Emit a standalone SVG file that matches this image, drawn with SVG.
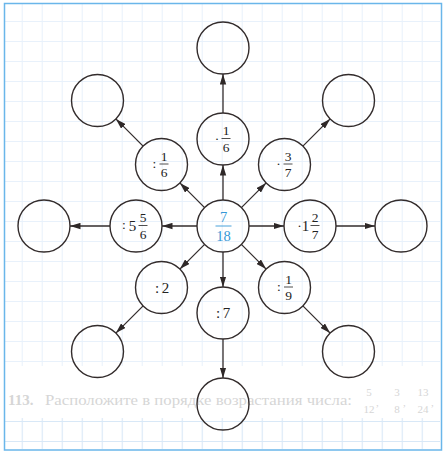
<svg xmlns="http://www.w3.org/2000/svg" width="447" height="456" viewBox="0 0 447 456">
<defs>
<pattern id="grid" patternUnits="userSpaceOnUse" x="1.7" y="1" width="20" height="20">
<path d="M0,0.5 H20 M0.5,0 V20" fill="none" stroke="#e8f1fb" stroke-width="1"/>
</pattern>
<pattern id="grid2" patternUnits="userSpaceOnUse" x="1.7" y="1" width="20" height="20">
<path d="M0,0.5 H20 M0.5,0 V20" fill="none" stroke="#d8e8f7" stroke-width="1.2"/>
</pattern>
<marker id="ah" markerUnits="userSpaceOnUse" markerWidth="11" markerHeight="7" refX="10.5" refY="3.5" orient="auto">
<path d="M0,0.3 L10.5,3.5 L0,6.7 Z" fill="#2e2828"/>
</marker>
<style>
.n{fill:none;stroke:#332c2c;stroke-width:1.4}
.t{font-family:"Liberation Serif","DejaVu Serif",serif;font-size:13.5px;fill:#222;text-anchor:middle}
.b{font-size:15px}
.bar{stroke:#222;stroke-width:0.8}
.c line{stroke:#332c2c;stroke-width:1.3;marker-end:url(#ah)}
.blue{fill:#3597d6;font-size:14.5px}
.ghost{font-family:"Liberation Serif","DejaVu Serif",serif;fill:#d6d6d6}
</style>
</defs>
<rect x="0" y="0" width="447" height="456" fill="#ffffff"/>
<rect x="5" y="4" width="435" height="362" fill="url(#grid)"/>
<rect x="5" y="418" width="435" height="31" fill="url(#grid2)"/>
<rect x="4.5" y="3.5" width="437" height="446.5" fill="none" stroke="#6ab6ea" stroke-width="1.5"/>
<g id="ghost-text">
<text class="ghost" x="8" y="405" font-size="15" font-weight="bold">113.</text>
<text class="ghost" x="45" y="405" font-size="15" textLength="307" lengthAdjust="spacingAndGlyphs">Расположите в порядке возрастания числа:</text>
<text class="ghost" x="369" y="396" font-size="11" text-anchor="middle">5</text>
<text class="ghost" x="369" y="413" font-size="11" text-anchor="middle">12</text>
<text class="ghost" x="376" y="406" font-size="11">,</text>
<text class="ghost" x="397" y="396" font-size="11" text-anchor="middle">3</text>
<text class="ghost" x="397" y="413" font-size="11" text-anchor="middle">8</text>
<text class="ghost" x="403" y="406" font-size="11">,</text>
<text class="ghost" x="423" y="396" font-size="11" text-anchor="middle">13</text>
<text class="ghost" x="423" y="413" font-size="11" text-anchor="middle">24</text>
<text class="ghost" x="431" y="406" font-size="11">,</text>
</g>
<g id="connectors" class="c">
<line x1="223" y1="200" x2="223" y2="165"/>
<line x1="223" y1="113" x2="223" y2="74"/>
<line x1="223" y1="252" x2="223" y2="287"/>
<line x1="223" y1="339" x2="223" y2="378"/>
<line x1="197" y1="226" x2="162" y2="226"/>
<line x1="110" y1="226" x2="70" y2="226"/>
<line x1="249" y1="226" x2="284" y2="226"/>
<line x1="336" y1="226" x2="375" y2="226"/>
<line x1="204.62" y1="207.62" x2="179.88" y2="182.88"/>
<line x1="143.12" y1="146.12" x2="115.88" y2="118.88"/>
<line x1="241.38" y1="207.62" x2="266.12" y2="182.88"/>
<line x1="302.88" y1="146.12" x2="330.12" y2="118.88"/>
<line x1="204.62" y1="244.38" x2="179.88" y2="269.12"/>
<line x1="143.12" y1="305.88" x2="115.88" y2="333.12"/>
<line x1="241.38" y1="244.38" x2="266.12" y2="269.12"/>
<line x1="302.88" y1="305.88" x2="330.12" y2="333.12"/>
</g>
<g id="center">
<circle class="n" cx="223" cy="226" r="26"/>
<text class="t blue" x="223.5" y="222">7</text>
<line x1="215.5" y1="226" x2="231.5" y2="226" stroke="#3597d6" stroke-width="0.9"/>
<text class="t blue" x="223.5" y="240.5">18</text>
</g>
<g id="op-mul-1-6">
<circle class="n" cx="223" cy="139" r="26"/>
<text class="t" x="217" y="142.5">·</text>
<text class="t" x="226" y="135">1</text>
<line class="bar" x1="221.5" y1="138.5" x2="230.5" y2="138.5"/>
<text class="t" x="226" y="151.5">6</text>
</g>
<g id="op-div-1-6">
<circle class="n" cx="161.5" cy="164.5" r="26"/>
<text class="t" x="154.5" y="167.5">:</text>
<text class="t" x="164" y="160.5">1</text>
<line class="bar" x1="159.5" y1="164" x2="168.5" y2="164"/>
<text class="t" x="164" y="177">6</text>
</g>
<g id="op-mul-3-7">
<circle class="n" cx="284.5" cy="164.5" r="26"/>
<text class="t" x="278.5" y="168">·</text>
<text class="t" x="288" y="160.5">3</text>
<line class="bar" x1="283.5" y1="164" x2="292.5" y2="164"/>
<text class="t" x="288" y="177">7</text>
</g>
<g id="op-div-5-5-6">
<circle class="n" cx="136" cy="226" r="26"/>
<text class="t" x="124" y="229">:</text>
<text class="t b" x="132.5" y="230.5">5</text>
<line class="bar" x1="138.5" y1="225.5" x2="147.5" y2="225.5"/>
<text class="t" x="143" y="222">5</text>
<text class="t" x="143" y="238.5">6</text>
</g>
<g id="op-mul-1-2-7">
<circle class="n" cx="310" cy="226" r="26"/>
<text class="t" x="299.5" y="229.5">·</text>
<text class="t b" x="305.5" y="230.5">1</text>
<text class="t" x="315" y="222">2</text>
<line class="bar" x1="310.5" y1="225.5" x2="319.5" y2="225.5"/>
<text class="t" x="315" y="238.5">7</text>
</g>
<g id="op-div-2">
<circle class="n" cx="161.5" cy="287.5" r="26"/>
<text class="t b" x="157" y="292.5">:</text>
<text class="t b" x="165.5" y="292.5">2</text>
</g>
<g id="op-div-7">
<circle class="n" cx="223" cy="313" r="26"/>
<text class="t b" x="218" y="318">:</text>
<text class="t b" x="226.5" y="318">7</text>
</g>
<g id="op-div-1-9">
<circle class="n" cx="284.5" cy="287.5" r="26"/>
<text class="t" x="279" y="290.5">:</text>
<text class="t" x="288.5" y="283.5">1</text>
<line class="bar" x1="284" y1="287" x2="293" y2="287"/>
<text class="t" x="288.5" y="300">9</text>
</g>
<g id="out-top"><circle class="n" cx="223" cy="48" r="26"/></g>
<g id="out-upper-left"><circle class="n" cx="97.5" cy="100.5" r="26"/></g>
<g id="out-upper-right"><circle class="n" cx="348.5" cy="100.5" r="26"/></g>
<g id="out-left"><circle class="n" cx="44" cy="226" r="26"/></g>
<g id="out-right"><circle class="n" cx="401" cy="226" r="26"/></g>
<g id="out-lower-left"><circle class="n" cx="97.5" cy="351.5" r="26"/></g>
<g id="out-bottom"><circle class="n" cx="223" cy="404" r="26"/></g>
<g id="out-lower-right"><circle class="n" cx="348.5" cy="351.5" r="26"/></g>
</svg>
